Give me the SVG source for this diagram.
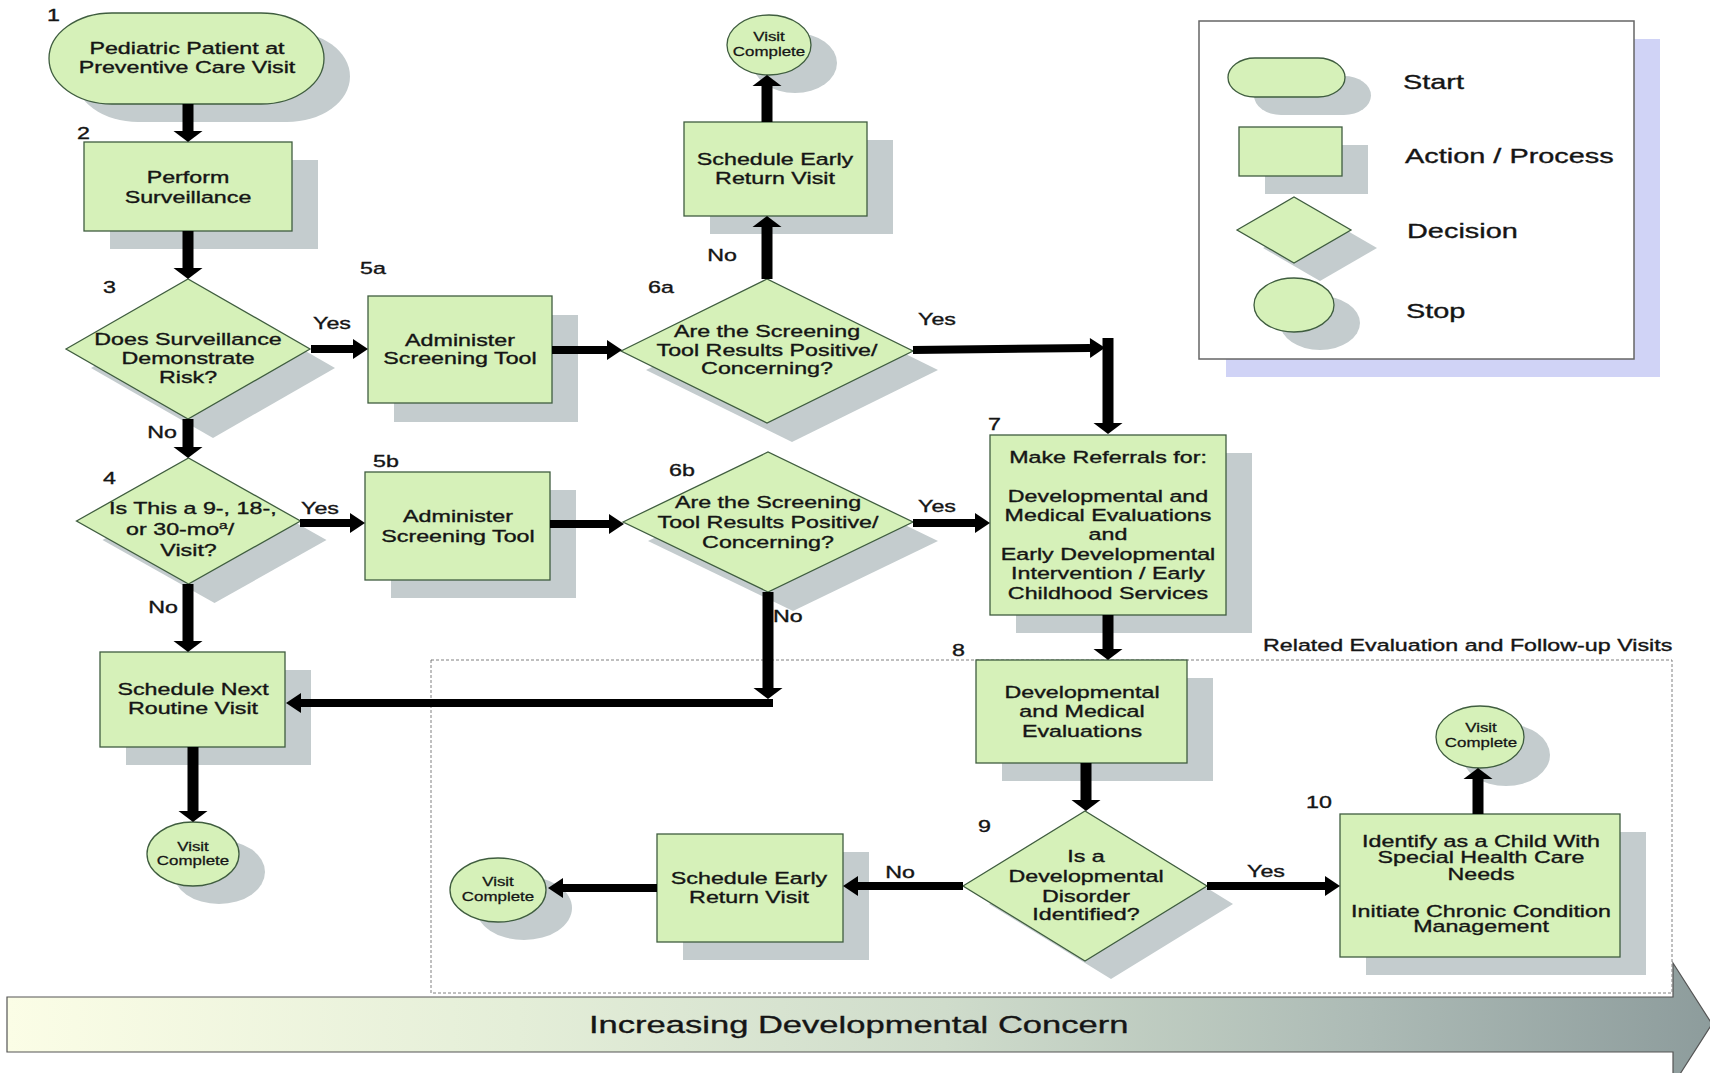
<svg xmlns="http://www.w3.org/2000/svg" width="1710" height="1073" viewBox="0 0 1710 1073">
<defs>
<style>
.n{fill:#d6f1b9;stroke:#3f5d3f;stroke-width:1.3}
.sh{fill:#c4ccce}
.t{font-family:"Liberation Sans",Arial,sans-serif;font-size:16.5px;fill:#151515;stroke:#151515;stroke-width:0.35;text-anchor:middle}
.s{font-size:12px;stroke-width:0.25}
.lg{font-size:20.5px;text-anchor:start}
.l{text-anchor:start}
.cv{stroke:#000;stroke-width:11;fill:none;marker-end:url(#av)}
.chz{stroke:#000;stroke-width:8;fill:none;marker-end:url(#ah)}
</style>
<marker id="av" markerUnits="userSpaceOnUse" markerWidth="1" markerHeight="1" refX="0" refY="0" orient="auto" overflow="visible"><path d="M0,-14.5 L11,0 L0,14.5 Z" fill="#000"/></marker>
<marker id="ah" markerUnits="userSpaceOnUse" markerWidth="1" markerHeight="1" refX="0" refY="0" orient="auto" overflow="visible"><path d="M0,-10 L15,0 L0,10 Z" fill="#000"/></marker>
<linearGradient id="band" x1="0" y1="0" x2="1" y2="0">
<stop offset="0" stop-color="#fbfde6"/>
<stop offset="0.3" stop-color="#e4eed8"/>
<stop offset="0.55" stop-color="#cfdccb"/>
<stop offset="0.8" stop-color="#acbab5"/>
<stop offset="1" stop-color="#8d9c9c"/>
</linearGradient>
</defs>
<rect width="1710" height="1073" fill="#fff"/>

<g id="band">
<path d="M7,997 H1673 V963 L1712,1024 L1673,1085 V1052 H7 Z" fill="url(#band)" stroke="#555" stroke-width="1.2"/>
<text class="t l" style="font-size:24.5px" transform="matrix(1.41 0 0 1 589 0)"><tspan x="0" y="1033">Increasing Developmental Concern</tspan></text>
</g>

<g id="followup">
<rect x="431" y="660" width="1241" height="333" fill="none" stroke="#808080" stroke-width="1" stroke-dasharray="3 2"/>
<text class="t l" transform="matrix(1.41 0 0 1 1263 0)"><tspan x="0" y="651">Related Evaluation and Follow-up Visits</tspan></text>
</g>

<g id="legend">
<rect x="1226" y="39" width="434" height="338" fill="#d0d3f6"/>
<rect x="1199" y="21" width="435" height="338" fill="#fff" stroke="#666" stroke-width="1.5"/>
<rect class="sh" x="1254" y="76" width="117" height="39" rx="27" ry="19.5"/>
<rect class="n" x="1228" y="58" width="117" height="39" rx="27" ry="19.5"/>
<rect class="sh" x="1265" y="145" width="103" height="49"/>
<rect class="n" x="1239" y="127" width="103" height="49"/>
<polygon class="sh" points="1263,248 1320,215 1377,248 1320,281"/>
<polygon class="n" points="1237,230 1294,197 1351,230 1294,263"/>
<ellipse class="sh" cx="1320" cy="323" rx="40" ry="27"/>
<ellipse class="n" cx="1294" cy="305" rx="40" ry="27"/>
<text class="t lg" transform="matrix(1.41 0 0 1 1403 0)"><tspan x="0" y="89">Start</tspan></text>
<text class="t lg" transform="matrix(1.41 0 0 1 1405 0)"><tspan x="0" y="163">Action / Process</tspan></text>
<text class="t lg" transform="matrix(1.41 0 0 1 1407 0)"><tspan x="0" y="238">Decision</tspan></text>
<text class="t lg" transform="matrix(1.41 0 0 1 1406 0)"><tspan x="0" y="318">Stop</tspan></text>
</g>

<g id="node1">
<rect class="sh" x="75" y="31" width="275" height="91" rx="63" ry="45.5"/>
<rect class="n" x="49" y="13" width="275" height="91" rx="63" ry="45.5"/>
<text class="t" transform="matrix(1.41 0 0 1 187 0)"><tspan x="0" y="54">Pediatric Patient at</tspan><tspan x="0" y="73">Preventive Care Visit</tspan></text>
<text class="t l" transform="matrix(1.41 0 0 1 47 0)"><tspan x="0" y="21">1</tspan></text>
</g>

<g id="node2">
<rect class="sh" x="110" y="160" width="208" height="89"/>
<rect class="n" x="84" y="142" width="208" height="89"/>
<text class="t" transform="matrix(1.41 0 0 1 188 0)"><tspan x="0" y="183">Perform</tspan><tspan x="0" y="203">Surveillance</tspan></text>
<text class="t l" transform="matrix(1.41 0 0 1 77 0)"><tspan x="0" y="139">2</tspan></text>
</g>

<g id="node3">
<polygon class="sh" points="91,368 213,298 335,368 213,438"/>
<polygon class="n" points="66,349 188,279 310,349 188,419"/>
<text class="t" transform="matrix(1.41 0 0 1 188 0)"><tspan x="0" y="345">Does Surveillance</tspan><tspan x="0" y="364">Demonstrate</tspan><tspan x="0" y="383">Risk?</tspan></text>
<text class="t l" transform="matrix(1.41 0 0 1 103 0)"><tspan x="0" y="293">3</tspan></text>
</g>

<g id="node4">
<polygon class="sh" points="102.5,540 214.5,477 326.5,540 214.5,603"/>
<polygon class="n" points="76.5,521 188.5,458 300.5,521 188.5,584"/>
<text class="t" transform="matrix(1.41 0 0 1 190 0)"><tspan x="2" y="514">Is This a 9-, 18-,</tspan><tspan x="-7" y="535">or 30-mo<tspan style="font-size:11px" baseline-shift="super">a</tspan>/</tspan><tspan x="-1" y="556">Visit?</tspan></text>
<text class="t l" transform="matrix(1.41 0 0 1 103 0)"><tspan x="0" y="484">4</tspan></text>
</g>

<g id="node5a">
<rect class="sh" x="394" y="315" width="184" height="107"/>
<rect class="n" x="368" y="296" width="184" height="107"/>
<text class="t" transform="matrix(1.41 0 0 1 460 0)"><tspan x="0" y="346">Administer</tspan><tspan x="0" y="364">Screening Tool</tspan></text>
<text class="t l" transform="matrix(1.41 0 0 1 360 0)"><tspan x="0" y="274">5a</tspan></text>
</g>

<g id="node5b">
<rect class="sh" x="391" y="490" width="185" height="108"/>
<rect class="n" x="365" y="472" width="185" height="108"/>
<text class="t" transform="matrix(1.41 0 0 1 458 0)"><tspan x="0" y="522">Administer</tspan><tspan x="0" y="542">Screening Tool</tspan></text>
<text class="t l" transform="matrix(1.41 0 0 1 373 0)"><tspan x="0" y="467">5b</tspan></text>
</g>

<g id="node6a">
<polygon class="sh" points="646,370 792,298 938,370 792,442"/>
<polygon class="n" points="621,351 767,279 913,351 767,423"/>
<text class="t" transform="matrix(1.41 0 0 1 767 0)"><tspan x="0" y="337">Are the Screening</tspan><tspan x="0" y="356">Tool Results Positive/</tspan><tspan x="0" y="374">Concerning?</tspan></text>
<text class="t l" transform="matrix(1.41 0 0 1 648 0)"><tspan x="0" y="293">6a</tspan></text>
</g>

<g id="node6b">
<polygon class="sh" points="648,541 793,471 938,541 793,611"/>
<polygon class="n" points="623,522 768,452 913,522 768,592"/>
<text class="t" transform="matrix(1.41 0 0 1 768 0)"><tspan x="0" y="508">Are the Screening</tspan><tspan x="0" y="528">Tool Results Positive/</tspan><tspan x="0" y="548">Concerning?</tspan></text>
<text class="t l" transform="matrix(1.41 0 0 1 669 0)"><tspan x="0" y="476">6b</tspan></text>
</g>

<g id="node-early-top">
<rect class="sh" x="710" y="140" width="183" height="94"/>
<rect class="n" x="684" y="122" width="183" height="94"/>
<text class="t" transform="matrix(1.41 0 0 1 775 0)"><tspan x="0" y="165">Schedule Early</tspan><tspan x="0" y="184">Return Visit</tspan></text>
</g>

<g id="node-visit-top">
<ellipse class="sh" cx="795" cy="63" rx="42" ry="30"/>
<ellipse class="n" cx="769" cy="45" rx="42" ry="30"/>
<text class="t s" transform="matrix(1.41 0 0 1 769 0)"><tspan x="0" y="41">Visit</tspan><tspan x="0" y="56">Complete</tspan></text>
</g>

<g id="node7">
<rect class="sh" x="1016" y="453" width="236" height="180"/>
<rect class="n" x="990" y="435" width="236" height="180"/>
<text class="t" transform="matrix(1.41 0 0 1 1108 0)"><tspan x="0" y="463">Make Referrals for:</tspan><tspan x="0" y="502">Developmental and</tspan><tspan x="0" y="521">Medical Evaluations</tspan><tspan x="0" y="540">and</tspan><tspan x="0" y="560">Early Developmental</tspan><tspan x="0" y="579">Intervention / Early</tspan><tspan x="0" y="599">Childhood Services</tspan></text>
<text class="t l" transform="matrix(1.41 0 0 1 988 0)"><tspan x="0" y="430">7</tspan></text>
</g>

<g id="node8">
<rect class="sh" x="1002" y="678" width="211" height="103"/>
<rect class="n" x="976" y="660" width="211" height="103"/>
<text class="t" transform="matrix(1.41 0 0 1 1082 0)"><tspan x="0" y="698">Developmental</tspan><tspan x="0" y="717">and Medical</tspan><tspan x="0" y="737">Evaluations</tspan></text>
<text class="t l" transform="matrix(1.41 0 0 1 952 0)"><tspan x="0" y="656">8</tspan></text>
</g>

<g id="node9">
<polygon class="sh" points="989,904 1111,829 1233,904 1111,979"/>
<polygon class="n" points="963,886 1085,811 1207,886 1085,961"/>
<text class="t" transform="matrix(1.41 0 0 1 1086 0)"><tspan x="0" y="862">Is a</tspan><tspan x="0" y="882">Developmental</tspan><tspan x="0" y="902">Disorder</tspan><tspan x="0" y="920">Identified?</tspan></text>
<text class="t l" transform="matrix(1.41 0 0 1 978 0)"><tspan x="0" y="832">9</tspan></text>
</g>

<g id="node10">
<rect class="sh" x="1366" y="832" width="280" height="143"/>
<rect class="n" x="1340" y="814" width="280" height="143"/>
<text class="t" transform="matrix(1.41 0 0 1 1481 0)"><tspan x="0" y="847">Identify as a Child With</tspan><tspan x="0" y="863">Special Health Care</tspan><tspan x="0" y="880">Needs</tspan><tspan x="0" y="917">Initiate Chronic Condition</tspan><tspan x="0" y="932">Management</tspan></text>
<text class="t l" transform="matrix(1.41 0 0 1 1306 0)"><tspan x="0" y="808">10</tspan></text>
</g>

<g id="node-visit-right">
<ellipse class="sh" cx="1506" cy="755" rx="44" ry="31"/>
<ellipse class="n" cx="1480" cy="737" rx="44" ry="31"/>
<text class="t s" transform="matrix(1.41 0 0 1 1481 0)"><tspan x="0" y="732">Visit</tspan><tspan x="0" y="747">Complete</tspan></text>
</g>

<g id="node-next-routine">
<rect class="sh" x="126" y="670" width="185" height="95"/>
<rect class="n" x="100" y="652" width="185" height="95"/>
<text class="t" transform="matrix(1.41 0 0 1 193 0)"><tspan x="0" y="695">Schedule Next</tspan><tspan x="0" y="714">Routine Visit</tspan></text>
</g>

<g id="node-visit-left">
<ellipse class="sh" cx="219" cy="872" rx="46" ry="32"/>
<ellipse class="n" cx="193" cy="854" rx="46" ry="32"/>
<text class="t s" transform="matrix(1.41 0 0 1 193 0)"><tspan x="0" y="851">Visit</tspan><tspan x="0" y="865">Complete</tspan></text>
</g>

<g id="node-early-bottom">
<rect class="sh" x="683" y="852" width="186" height="108"/>
<rect class="n" x="657" y="834" width="186" height="108"/>
<text class="t" transform="matrix(1.41 0 0 1 749 0)"><tspan x="0" y="884">Schedule Early</tspan><tspan x="0" y="903">Return Visit</tspan></text>
</g>

<g id="node-visit-bottom">
<ellipse class="sh" cx="524" cy="908" rx="48" ry="32"/>
<ellipse class="n" cx="498" cy="890" rx="48" ry="32"/>
<text class="t s" transform="matrix(1.41 0 0 1 498 0)"><tspan x="0" y="886">Visit</tspan><tspan x="0" y="901">Complete</tspan></text>
</g>

<g id="connectors">
<text class="t" transform="matrix(1.41 0 0 1 332 0)"><tspan x="0" y="329">Yes</tspan></text>
<text class="t" transform="matrix(1.41 0 0 1 162 0)"><tspan x="0" y="438">No</tspan></text>
<text class="t" transform="matrix(1.41 0 0 1 320 0)"><tspan x="0" y="514">Yes</tspan></text>
<text class="t" transform="matrix(1.41 0 0 1 163 0)"><tspan x="0" y="613">No</tspan></text>
<text class="t" transform="matrix(1.41 0 0 1 722 0)"><tspan x="0" y="261">No</tspan></text>
<text class="t" transform="matrix(1.41 0 0 1 937 0)"><tspan x="0" y="325">Yes</tspan></text>
<text class="t" transform="matrix(1.41 0 0 1 937 0)"><tspan x="0" y="512">Yes</tspan></text>
<text class="t l" transform="matrix(1.41 0 0 1 773 0)"><tspan x="0" y="622">No</tspan></text>
<text class="t" transform="matrix(1.41 0 0 1 900 0)"><tspan x="0" y="878">No</tspan></text>
<text class="t" transform="matrix(1.41 0 0 1 1266 0)"><tspan x="0" y="877">Yes</tspan></text>
<path class="cv" d="M188,104 V131"/>
<path class="cv" d="M188,231 V268"/>
<path class="chz" d="M311,349 H353"/>
<path class="cv" d="M188,419 V447"/>
<path class="chz" d="M300,523 H350"/>
<path class="chz" d="M552,350 H607"/>
<path class="chz" d="M550,524 H609"/>
<path class="cv" d="M767,279 V227"/>
<path class="cv" d="M767,122 V86"/>
<path class="chz" d="M913,350 L1090,348"/>
<path class="cv" d="M1108,338 V423"/>
<path class="chz" d="M913,523 H975"/>
<path class="cv" d="M768,592 V688"/>
<path class="chz" d="M773,703 H301"/>
<path class="cv" d="M188,584 V641"/>
<path class="cv" d="M193,747 V811"/>
<path class="cv" d="M1108,615 V649"/>
<path class="cv" d="M1086,763 V800"/>
<path class="chz" d="M963,886 H858"/>
<path class="chz" d="M657,888 H563"/>
<path class="chz" d="M1207,886 H1325"/>
<path class="cv" d="M1478,814 V779"/>
</g>
</svg>
